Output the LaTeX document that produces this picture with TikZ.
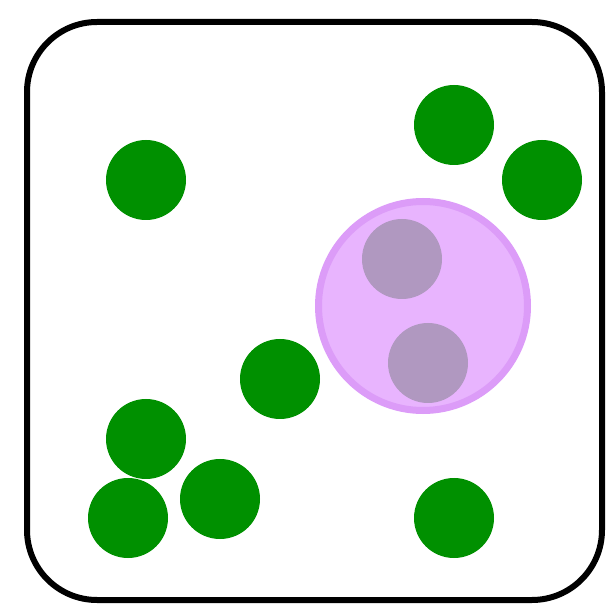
\documentclass[tikz,border=0pt]{standalone}
\usepackage{xcolor}
\definecolor{leaf}{HTML}{009000}
\definecolor{cellfill}{HTML}{E8B4FE}
\definecolor{cellrim}{HTML}{DC9CF8}
\definecolor{inside}{HTML}{B098C0}

\begin{document}
\begin{tikzpicture}[x=1pt, y=-1pt,
    dot/.style={circle, fill=leaf, minimum size=80pt, inner sep=0pt},
    eaten/.style={dot, fill=inside},
    cell/.style={circle, draw=cellrim, fill=cellfill, line width=7pt,
                 minimum size=209pt, inner sep=0pt}
  ]
    \useasboundingbox (0,0) rectangle (606,604);
    % box
    \draw[line width=6pt, rounded corners=70pt] (27,22) rectangle (602,600);

    % free particles
    \node[dot] (p1) at (146,180) {};
    \node[dot] (p2) at (454,125) {};
    \node[dot] (p3) at (542,180) {};
    \node[dot] (p4) at (280,379) {};
    \node[dot] (p5) at (146,439) {};
    \node[dot] (p6) at (220,499) {};
    \node[dot] (p7) at (128,518) {};
    \node[dot] (p8) at (454,518) {};

    % cell with swallowed particles
    \node[cell]  (cell) at (423,306) {};
    \node[eaten] (e1)   at (402,259) {};
    \node[eaten] (e2)   at (428,363) {};
  \end{tikzpicture}
\end{document}
